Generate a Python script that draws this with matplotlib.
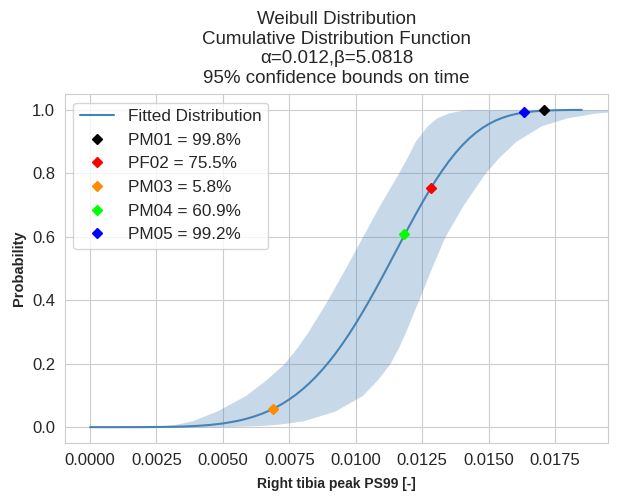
import matplotlib
matplotlib.use('Agg')
import matplotlib.pyplot as plt
from matplotlib.ticker import FormatStrFormatter
import seaborn as sns

# fitted Weibull CDF
x_fit = [0.0, 0.0010, 0.0020, 0.0030, 0.0035, 0.0040, 0.0045, 0.0050, 0.0055,
         0.00575, 0.0060, 0.00625, 0.0065, 0.00675, 0.0070, 0.00725, 0.0075,
         0.00775, 0.0080, 0.00825, 0.0085, 0.00875, 0.0090, 0.00925, 0.0095,
         0.00975, 0.0100, 0.01025, 0.0105, 0.01075, 0.0110, 0.01125, 0.0115,
         0.01175, 0.0120, 0.01225, 0.0125, 0.01275, 0.0130, 0.01325, 0.0135,
         0.01375, 0.0140, 0.01425, 0.0145, 0.01475, 0.0150, 0.01525, 0.0155,
         0.01575, 0.0160, 0.01625, 0.0165, 0.01675, 0.0170, 0.0175, 0.0180,
         0.0185]
p_fit = [0.0, 0.0, 0.0001, 0.0009, 0.0019, 0.0038, 0.0068, 0.0116, 0.0188,
         0.0235, 0.0291, 0.0357, 0.0434, 0.0523, 0.0626, 0.0743, 0.0877,
         0.1027, 0.1196, 0.1384, 0.1592, 0.1820, 0.2069, 0.2339, 0.2630,
         0.2940, 0.3270, 0.3617, 0.3979, 0.4354, 0.4741, 0.5134, 0.5531,
         0.5928, 0.6321, 0.6706, 0.7079, 0.7435, 0.7773, 0.8088, 0.8379,
         0.8643, 0.8880, 0.9088, 0.9269, 0.9424, 0.9553, 0.9660, 0.9746,
         0.9814, 0.9866, 0.9906, 0.9936, 0.9957, 0.9972, 0.9989, 0.9996,
         0.9999]

# 95% confidence bounds on time
p_band = [0.0001, 0.001, 0.005, 0.01, 0.02, 0.05, 0.1, 0.15, 0.2, 0.25, 0.3,
          0.4, 0.5, 0.6, 0.7, 0.8, 0.85, 0.9, 0.95, 0.975, 0.99, 0.995,
          0.999, 0.9999]
x_lower = [0.00122, 0.00197, 0.00279, 0.00328, 0.00384, 0.00475, 0.00586,
           0.00663, 0.00730, 0.00778, 0.00820, 0.00893, 0.00960, 0.01025,
           0.01090, 0.01160, 0.01193, 0.01223, 0.01269, 0.01305, 0.01348,
           0.01376, 0.01406, 0.01430]
x_upper = [0.00323, 0.00487, 0.00643, 0.00718, 0.00802, 0.00920, 0.01025,
           0.01082, 0.01128, 0.01160, 0.01187, 0.01236, 0.01284, 0.01335,
           0.01404, 0.01486, 0.01538, 0.01601, 0.01698, 0.01795, 0.01904,
           0.01974, 0.02124, 0.02280]

# test points
names = ['PM01', 'PF02', 'PM03', 'PM04', 'PM05']
x_pts = [0.01706, 0.01283, 0.00689, 0.01180, 0.01634]
p_pts = [0.998, 0.755, 0.058, 0.609, 0.992]
colors = ['black', 'red', 'darkorange', 'lime', 'blue']

sns.set_style('whitegrid')
plt.rcParams['font.family'] = ['Liberation Sans', 'DejaVu Sans']

fig = plt.figure(figsize=(6.17, 5.0), dpi=100)
ax = fig.add_axes([0.105, 0.114, 0.881, 0.698])

ax.fill_betweenx(p_band, x_lower, x_upper, color='steelblue', alpha=0.3,
                 linewidth=0, zorder=1)
ax.plot(x_fit, p_fit, color='steelblue', lw=1.5, label='Fitted Distribution',
        zorder=2)
for n, x, p, c in zip(names, x_pts, p_pts, colors):
    ax.plot(x, p, linestyle='none', marker='D', markersize=5, color=c,
            label='%s = %.1f%%' % (n, p * 100), zorder=3)

ax.set_xlim(-0.00095, 0.0195)
ax.set_ylim(-0.05, 1.05)
ax.set_xticks([0.0025 * i for i in range(8)])
ax.xaxis.set_major_formatter(FormatStrFormatter('%.4f'))
ax.tick_params(labelsize=12)

ax.set_xlabel('Right tibia peak PS99 [-]', fontsize=10, fontweight='bold',
              labelpad=7)
ax.set_ylabel('Probability', fontsize=10.5, fontweight='bold')
ax.set_title('Weibull Distribution\nCumulative Distribution Function\n'
             'α=0.012,β=5.0818\n95% confidence bounds on time', fontsize=13.5,
             pad=8)
ax.legend(loc='upper left', fontsize=12.3)

fig.savefig('out.png', dpi=100)
